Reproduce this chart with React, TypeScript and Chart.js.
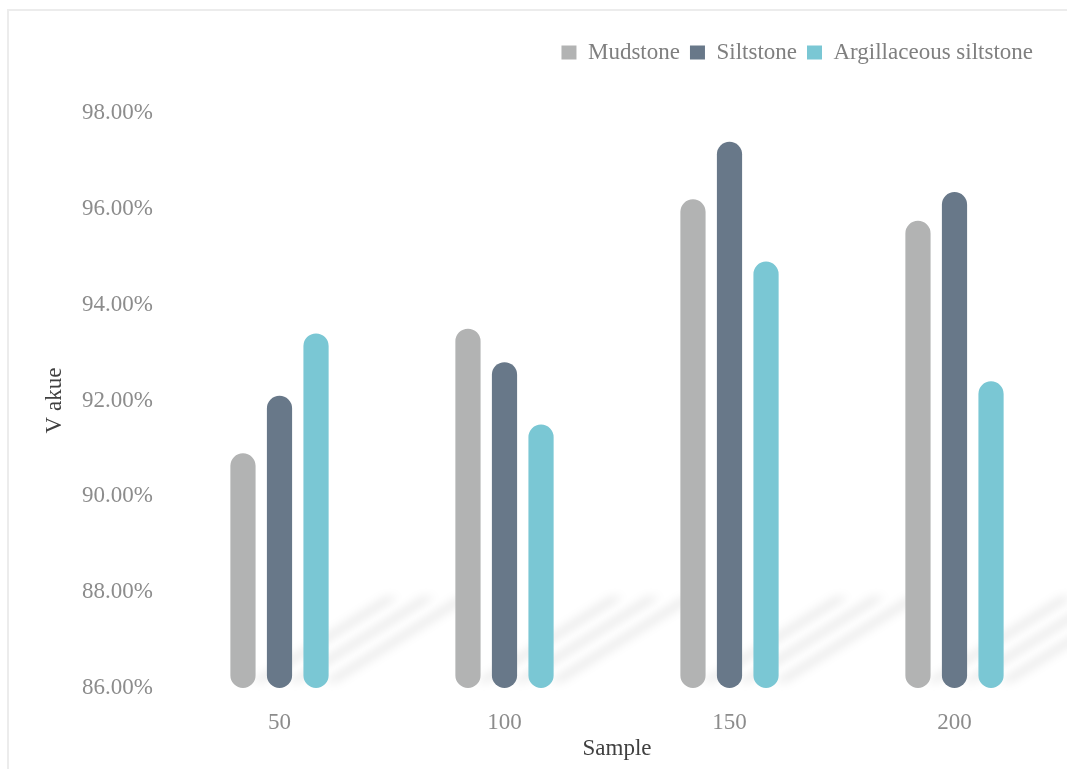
import React, { useEffect, useRef } from 'react';
import { Chart, registerables } from 'chart.js';

Chart.register(...registerables);

const categories = ['50', '100', '150', '200'];
const seriesNames = ['Mudstone', 'Siltstone', 'Argillaceous siltstone'];
const mudstone = [90.9, 93.5, 96.2, 95.75];
const siltstone = [92.1, 92.8, 97.4, 96.35];
const argillaceous = [93.4, 91.5, 94.9, 92.4];
const seriesColors = ['#b2b3b3', '#687889', '#7ac7d4'];
const yMin = 86;
const yMax = 98;
const yStep = 2;

const FONT = "'Liberation Serif', 'Times New Roman', serif";

const shadowPlugin = {
  id: 'barShadows',
  beforeDatasetsDraw(chart: any) {
    const ctx = chart.ctx;
    ctx.save();
    ctx.filter = 'blur(5px)';
    ctx.fillStyle = 'rgba(0,0,0,0.09)';
    chart.data.datasets.forEach((_: any, i: number) => {
      const meta = chart.getDatasetMeta(i);
      meta.data.forEach((el: any) => {
        const { x, base, width } = el.getProps(['x', 'base', 'width'], true);
        const w = width * 0.5;
        const dx = 135;
        const dy = 85;
        const x0 = x + width / 2 - w * 0.4;
        const y0 = base - 6;
        ctx.beginPath();
        ctx.moveTo(x0, y0);
        ctx.lineTo(x0 + w, y0);
        ctx.lineTo(x0 + w + dx, y0 - dy);
        ctx.lineTo(x0 + dx, y0 - dy);
        ctx.closePath();
        ctx.fill();
      });
    });
    ctx.restore();
  },
};

const legendPlugin = {
  id: 'legendSpacing',
  beforeInit(chart: any) {
    const legend = chart.legend;
    if (!legend) return;
    const origFit = legend.fit;
    legend.fit = function () {
      origFit.bind(legend)();
      this.height = 82;
    };
  },
  afterLayout(chart: any) {
    const legend = chart.legend;
    if (legend) {
      legend.right = chart.width - 24;
    }
  },
};

export default function App() {
  const canvasRef = useRef<HTMLCanvasElement | null>(null);

  useEffect(() => {
    if (!canvasRef.current) return;
    const values = [mudstone, siltstone, argillaceous];
    const chart = new Chart(canvasRef.current, {
      type: 'bar',
      data: {
        labels: categories,
        datasets: seriesNames.map((name, i) => ({
          label: name,
          data: values[i],
          base: yMin,
          backgroundColor: seriesColors[i],
          borderWidth: 0,
          borderRadius: 13,
          borderSkipped: false,
          categoryPercentage: 0.487,
          barPercentage: 0.69,
        })),
      },
      options: {
        responsive: false,
        animation: false,
        devicePixelRatio: 1,
        layout: { padding: { top: 31, left: 0, right: 0, bottom: 0 } },
        plugins: {
          legend: {
            position: 'top',
            align: 'end',
            labels: {
              boxWidth: 15,
              boxHeight: 14,
              padding: 10,
              color: '#7f7f7f',
              font: { family: FONT, size: 23 },
            },
          },
          tooltip: { enabled: false },
        },
        scales: {
          x: {
            grid: { display: false },
            border: { display: false },
            ticks: {
              color: '#8c8c8c',
              font: { family: FONT, size: 23 },
              padding: 13,
            },
            title: {
              display: true,
              text: 'Sample',
              color: '#404040',
              font: { family: FONT, size: 23 },
              padding: { top: 6, bottom: 6 },
            },
            afterFit(scale: any) {
              scale.height = 81;
            },
          },
          y: {
            min: yMin,
            max: yMax,
            grid: { display: false },
            border: { display: false },
            ticks: {
              stepSize: yStep,
              color: '#8c8c8c',
              font: { family: FONT, size: 23 },
              padding: 6,
              callback: (v: any) => Number(v).toFixed(2) + '%',
            },
            title: {
              display: true,
              text: 'V akue',
              color: '#404040',
              font: { family: FONT, size: 23 },
              padding: { top: 41, bottom: 0 },
            },
            afterFit(scale: any) {
              scale.width = 167;
            },
          },
        },
      },
      plugins: [shadowPlugin, legendPlugin],
    } as any);
    return () => chart.destroy();
  }, []);

  return (
    <div
      style={{
        position: 'fixed',
        left: 0,
        top: 0,
        width: 1067,
        height: 769,
        background: '#ffffff',
        overflow: 'hidden',
      }}
    >
      <div
        style={{
          position: 'absolute',
          left: 7,
          top: 9,
          width: 1100,
          height: 800,
          borderLeft: '2px solid #ececec',
          borderTop: '2px solid #ececec',
        }}
      />
      <canvas
        ref={canvasRef}
        width={1067}
        height={769}
        style={{ position: 'absolute', left: 0, top: 0, width: 1067, height: 769 }}
      />
    </div>
  );
}
